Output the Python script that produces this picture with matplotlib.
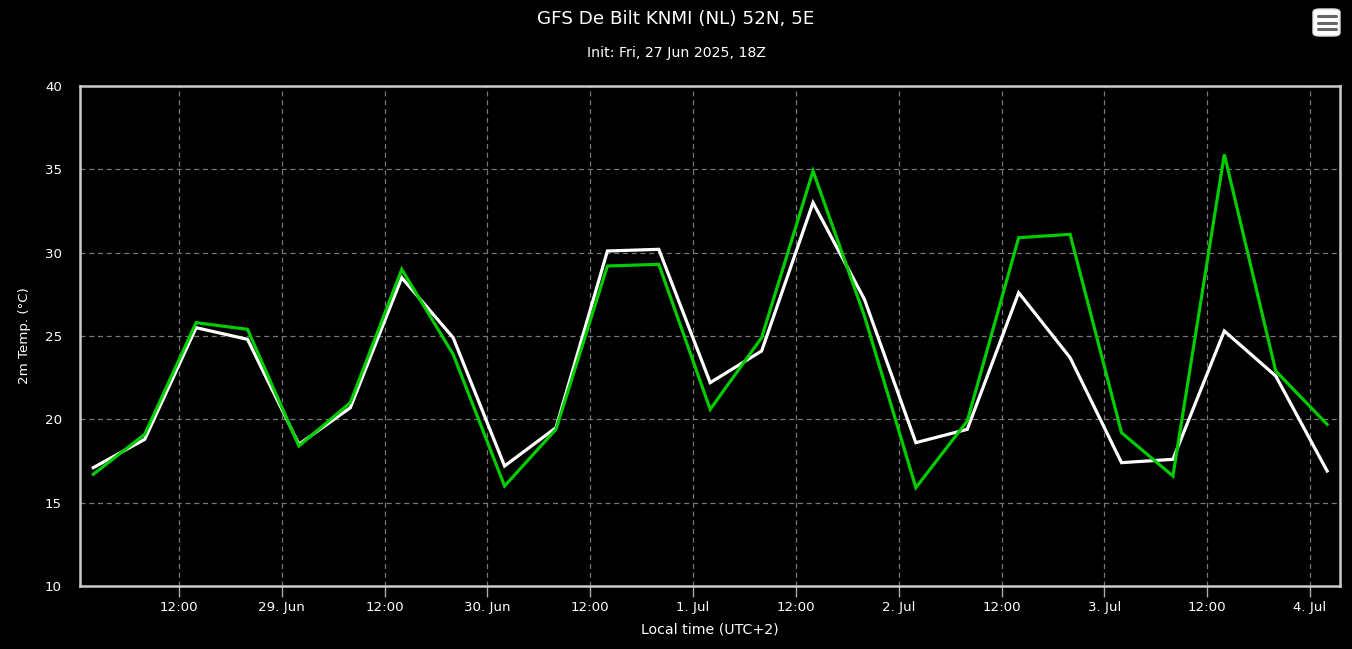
import datetime as dt
import matplotlib
matplotlib.use("Agg")
import matplotlib.pyplot as plt
from matplotlib.patches import FancyBboxPatch

# === Data (2m temperature, degC, 6-hourly, local time UTC+2) ===
start = dt.datetime(2025, 6, 28, 2, 0)
times = [start + dt.timedelta(hours=6 * i) for i in range(25)]

temp_white = [17.1, 18.8, 25.5, 24.8, 18.5, 20.7, 28.5, 24.9, 17.2, 19.5,
              30.1, 30.2, 22.2, 24.1, 33.0, 27.2, 18.6, 19.4, 27.6, 23.7,
              17.4, 17.6, 25.3, 22.6, 16.9]
temp_green = [16.7, 19.1, 25.8, 25.4, 18.4, 21.0, 29.0, 23.9, 16.0, 19.4,
              29.2, 29.3, 20.6, 24.9, 34.9, 26.2, 15.9, 19.9, 30.9, 31.1,
              19.2, 16.6, 35.9, 22.9, 19.7]

tick_times = [dt.datetime(2025, 6, 28, 12) + dt.timedelta(hours=12 * i) for i in range(12)]
tick_labels = ["12:00", "29. Jun", "12:00", "30. Jun", "12:00", "1. Jul",
               "12:00", "2. Jul", "12:00", "3. Jul", "12:00", "4. Jul"]
y_ticks = [10, 15, 20, 25, 30, 35, 40]

# === Plot ===
fig = plt.figure(figsize=(13.52, 6.49), dpi=100, facecolor="black")
ax = fig.add_axes([80 / 1352, 1 - 586 / 649, 1260 / 1352, 500 / 649])
ax.set_facecolor("black")

ax.plot(times, temp_white, color="white", lw=2.3, solid_joinstyle="miter", zorder=3)
ax.plot(times, temp_green, color="#00cc00", lw=2.3, solid_joinstyle="miter", zorder=4)

ax.set_xlim(dt.datetime(2025, 6, 28, 0, 27), dt.datetime(2025, 7, 4, 3, 30))
ax.set_ylim(10, 40)

ax.set_xticks(tick_times)
ax.set_xticklabels(tick_labels)
ax.set_yticks(y_ticks)
ax.tick_params(axis="x", colors="#aaaaaa", labelcolor="white", length=8, width=1,
               labelsize=9.6, pad=3)
ax.tick_params(axis="y", length=0, labelcolor="white", labelsize=9.6, pad=13)

ax.grid(True, color="#777777", linestyle=(0, (4, 3)), linewidth=0.9)
for s in ax.spines.values():
    s.set_color("#cccccc")
    s.set_linewidth(1.8)

ax.set_xlabel("Local time (UTC+2)", color="white", fontsize=10.2, labelpad=6)
ax.set_ylabel("2m Temp. (°C)", color="white", fontsize=9.6, labelpad=10)

fig.text(0.5, 1 - 19 / 649, "GFS De Bilt KNMI (NL) 52N, 5E", color="white",
         fontsize=13.2, ha="center", va="center")
fig.text(0.5, 1 - 53 / 649, "Init: Fri, 27 Jun 2025, 18Z", color="white",
         fontsize=10.2, ha="center", va="center")

# menu button (top right)
W, H = 1352, 649
btn = FancyBboxPatch((1313 / W, 1 - 36 / H), 27 / W, 27 / H,
                     boxstyle="round,pad=0,rounding_size=0.005",
                     transform=fig.transFigure, facecolor="white", edgecolor="#dddddd")
fig.patches.append(btn)
for yy in [16, 22.5, 29]:
    fig.lines.append(plt.Line2D([1318 / W, 1336 / W], [1 - yy / H, 1 - yy / H],
                                transform=fig.transFigure, color="#666666",
                                lw=2.2, solid_capstyle="round"))

fig.savefig("out.png", dpi=100, facecolor="black")
